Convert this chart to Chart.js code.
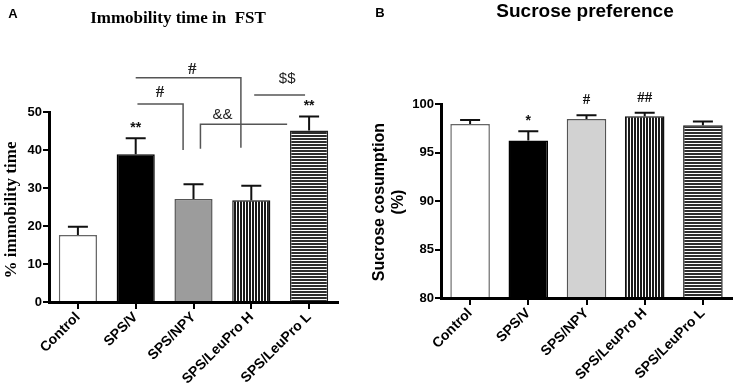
<!DOCTYPE html>
<html lang="en">
<head>
  <meta charset="UTF-8" />
  <title>Immobility time and sucrose preference</title>
  <script src="https://cdn.jsdelivr.net/npm/chart.js"></script>
  <style>
    body {
      margin: 0;
      background: #fff;
    }
    .wrap {
      display: flex;
      width: 737px;
      height: 392px;
    }
    canvas {
      display: block;
    }
  </style>
</head>
<body>
  <div class="wrap">
    <canvas id="panel-a" width="370" height="392"></canvas>
    <canvas id="panel-b" width="367" height="392"></canvas>
  </div>

  <script>
    const groups = ["Control", "SPS/V", "SPS/NPY", "SPS/LeuPro H", "SPS/LeuPro L"];

    // A: % immobility time (mean, SEM)
    const immobility = [17.6, 38.9, 27.1, 26.8, 45.1];
    const immobilitySem = [2.2, 4.2, 3.9, 3.8, 3.7];
    const immobilityMarks = ["", "**", "", "", "**"];
    const immobilityTicks = [0, 10, 20, 30, 40, 50];

    // B: sucrose consumption (%)
    const sucrose = [97.95, 96.25, 98.45, 98.75, 97.8];
    const sucroseSem = [0.4, 0.95, 0.4, 0.35, 0.4];
    const sucroseMarks = ["", "*", "#", "##", ""];
    const sucroseTicks = [80, 85, 90, 95, 100];

    // comparison brackets in panel A (category index / y value)
    const comparisons = [
      { text: "#", from: 1.0, to: 2.82, level: 59, dropRight: 40.6, textAt: 1.98, textLevel: 61.2 },
      { text: "#", from: 1.03, to: 1.82, level: 52.1, dropRight: 40, textAt: 1.42, textLevel: 55 },
      { text: "&&", from: 2.12, to: 3.62, level: 46.8, dropLeft: 40.3, textAt: 2.5, textLevel: 49.3 },
      { text: "$$", from: 3.05, to: 3.93, level: 54.5, textAt: 3.62, textLevel: 58.7 }
    ];

    function stripes(vertical, dark) {
      const c = document.createElement("canvas");
      c.width = 3; c.height = 3;
      const g = c.getContext("2d");
      g.fillStyle = "#fff";
      g.fillRect(0, 0, 3, 3);
      g.fillStyle = dark;
      if (vertical) g.fillRect(0, 0, 2, 3);
      else g.fillRect(0, 0, 3, 2);
      return g.createPattern(c, "repeat");
    }

    const sansBold = (px) => "bold " + px + "px 'Liberation Sans', Arial, sans-serif";
    const serifBold = (px) => "bold " + px + "px 'Liberation Serif', 'Times New Roman', serif";

    const extras = {
      id: "extras",
      afterDraw(chart, args, o) {
        const ctx = chart.ctx;
        const xs = chart.scales.x, ys = chart.scales.y;
        const meta = chart.getDatasetMeta(0);
        const vals = chart.data.datasets[0].data;
        ctx.save();
        // error bars + significance marks
        ctx.strokeStyle = "#111";
        ctx.lineWidth = 2;
        meta.data.forEach((bar, i) => {
          const top = ys.getPixelForValue(vals[i] + o.sem[i]);
          ctx.beginPath();
          ctx.moveTo(bar.x, bar.y);
          ctx.lineTo(bar.x, top);
          ctx.moveTo(bar.x - 10, top);
          ctx.lineTo(bar.x + 10, top);
          ctx.stroke();
          const m = o.marks[i];
          if (m) {
            ctx.fillStyle = "#111";
            ctx.textAlign = "center";
            ctx.textBaseline = "middle";
            ctx.font = m.indexOf("#") >= 0 ? serifBold(15) : sansBold(14);
            ctx.fillText(m, bar.x, top - (m.indexOf("#") >= 0 ? 15 : 10));
          }
        });
        // brackets
        (o.brackets || []).forEach(b => {
          const x1 = xs.getPixelForValue(b.from), x2 = xs.getPixelForValue(b.to);
          const y = ys.getPixelForValue(b.level);
          ctx.strokeStyle = "#555";
          ctx.lineWidth = 1.5;
          ctx.beginPath();
          if (b.dropLeft != null) {
            ctx.moveTo(x1, ys.getPixelForValue(b.dropLeft));
            ctx.lineTo(x1, y);
          } else {
            ctx.moveTo(x1, y);
          }
          ctx.lineTo(x2, y);
          if (b.dropRight != null) ctx.lineTo(x2, ys.getPixelForValue(b.dropRight));
          ctx.stroke();
          ctx.fillStyle = "#222";
          ctx.textAlign = "center";
          ctx.textBaseline = "middle";
          ctx.font = b.text === "#" ? serifBold(17) : "15px 'Liberation Sans', Arial, sans-serif";
          ctx.fillText(b.text, xs.getPixelForValue(b.textAt), ys.getPixelForValue(b.textLevel));
        });
        // panel letter and title
        ctx.fillStyle = "#000";
        ctx.textBaseline = "middle";
        ctx.textAlign = "center";
        ctx.font = sansBold(13);
        ctx.fillText(o.letter, o.letterX, o.letterY);
        ctx.font = o.titleFont;
        ctx.fillText(o.title, o.titleX, o.titleY);
        // y title
        ctx.translate(o.yTitleX, o.yTitleY);
        ctx.rotate(-Math.PI / 2);
        ctx.font = o.yTitleFont;
        o.yTitle.forEach((line, k) => ctx.fillText(line, 0, k * 19));
        ctx.restore();
      }
    };

    function axisOptions(ticks, min, max, yWidth, xHeight) {
      return {
        x: {
          offset: true,
          grid: { offset: false, drawOnChartArea: false, color: "#000", lineWidth: 2, tickLength: 7 },
          border: { display: true, color: "#000", width: 3 },
          ticks: { color: "#000", font: { family: "'Liberation Sans', Arial", weight: "bold", size: 14 }, maxRotation: 45, minRotation: 45, padding: 0 },
          afterFit: s => { s.height = xHeight; }
        },
        y: {
          min, max,
          afterBuildTicks: s => { s.ticks = ticks.map(v => ({ value: v })); },
          grid: { drawOnChartArea: false, color: "#000", lineWidth: 2, tickLength: 6 },
          border: { display: true, color: "#000", width: 3 },
          ticks: { color: "#000", font: { family: "'Liberation Sans', Arial", weight: "bold", size: 13 }, padding: 1 },
          afterFit: s => { s.width = yWidth; }
        }
      };
    }

    new Chart(document.getElementById("panel-a"), {
      type: "bar",
      data: {
        labels: groups,
        datasets: [{
          data: immobility,
          backgroundColor: ["#fff", "#000", "#9c9c9c", stripes(true, "#1a1a1a"), stripes(false, "#2e2e2e")],
          borderColor: ["#666", "#000", "#555", "#111", "#222"],
          borderWidth: 1.5,
          categoryPercentage: 1,
          barPercentage: 0.66
        }]
      },
      options: {
        responsive: false,
        animation: false,
        devicePixelRatio: 1,
        layout: { padding: { left: 0, top: 112, right: 32, bottom: 0 } },
        scales: axisOptions(immobilityTicks, 0, 50, 49, 90),
        plugins: {
          legend: { display: false },
          tooltip: { enabled: false },
          extras: {
            sem: immobilitySem, marks: immobilityMarks, brackets: comparisons,
            letter: "A", letterX: 13, letterY: 14,
            title: "Immobility time in  FST", titleFont: serifBold(17), titleX: 178, titleY: 19,
            yTitle: ["% immobility time"], yTitleFont: serifBold(17), yTitleX: 12, yTitleY: 210
          }
        }
      },
      plugins: [extras]
    });

    new Chart(document.getElementById("panel-b"), {
      type: "bar",
      data: {
        labels: groups,
        datasets: [{
          data: sucrose,
          base: 80,
          backgroundColor: ["#fff", "#000", "#d2d2d2", stripes(true, "#1a1a1a"), stripes(false, "#2e2e2e")],
          borderColor: ["#666", "#000", "#555", "#111", "#222"],
          borderWidth: 1.5,
          categoryPercentage: 1,
          barPercentage: 0.68
        }]
      },
      options: {
        responsive: false,
        animation: false,
        devicePixelRatio: 1,
        layout: { padding: { left: 0, top: 104, right: 5, bottom: 0 } },
        scales: axisOptions(sucroseTicks, 80, 100, 71, 94),
        plugins: {
          legend: { display: false },
          tooltip: { enabled: false },
          extras: {
            sem: sucroseSem, marks: sucroseMarks,
            letter: "B", letterX: 10, letterY: 13,
            title: "Sucrose preference", titleFont: sansBold(19), titleX: 215, titleY: 12,
            yTitle: ["Sucrose cosumption", "(%)"], yTitleFont: sansBold(16), yTitleX: 10, yTitleY: 202
          }
        }
      },
      plugins: [extras]
    });
  </script>
</body>
</html>
